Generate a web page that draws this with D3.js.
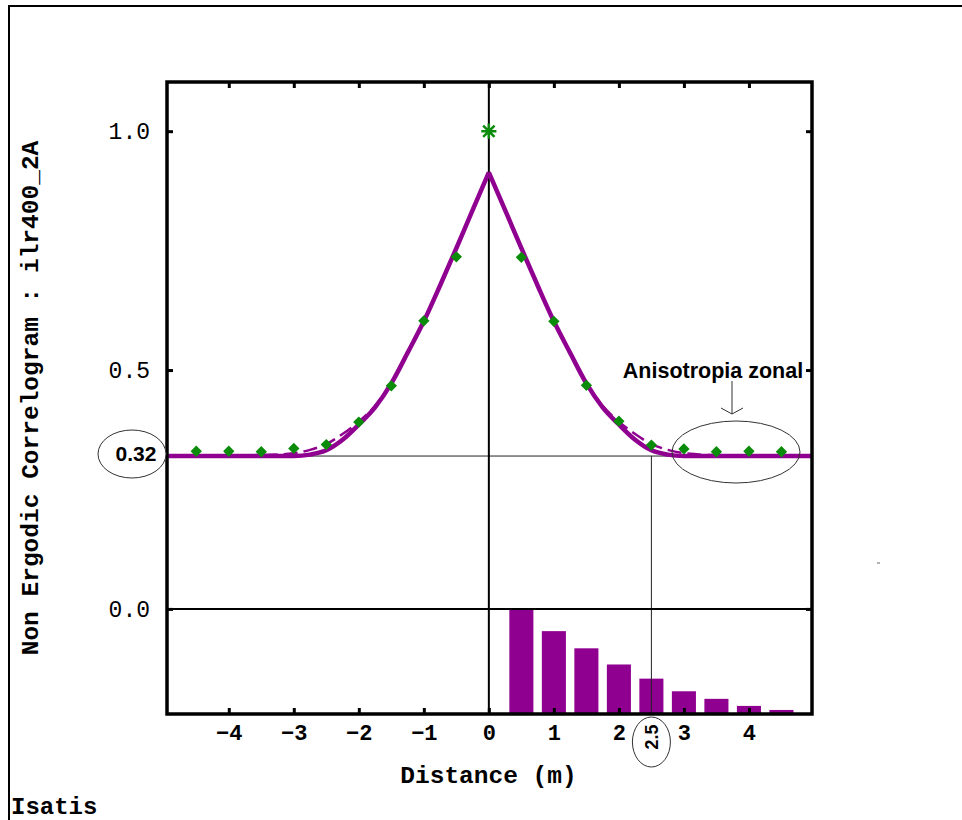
<!DOCTYPE html>
<html>
<head>
<meta charset="utf-8">
<script src="https://cdnjs.cloudflare.com/ajax/libs/d3/7.8.5/d3.min.js"></script>
<style>
  body { margin: 0; background: #fff; }
  svg { display: block; }
  .mono { font-family: "Liberation Mono", "Courier New", monospace; }
  .sans { font-family: "Liberation Sans", Arial, sans-serif; font-weight: bold; }
</style>
</head>
<body>
<div id="chart"></div>
<script>
// experimental correlogram (green diamonds), lags in metres
var expLags = [-4.5, -4, -3.5, -3, -2.5, -2, -1.5, -1, -0.5, 0.5, 1, 1.5, 2, 2.5, 3, 3.5, 4, 4.5];
var expValues = [0.330, 0.330, 0.329, 0.336, 0.344, 0.391, 0.467, 0.603, 0.737,
                 0.736, 0.602, 0.468, 0.393, 0.343, 0.335, 0.329, 0.330, 0.329];
// value at lag 0 (asterisk)
var originLag = [0];
var originValue = [1.0];

// fitted model (solid) for positive lags, mirrored for negative ones
var modelLags = [0, 0.25, 0.5, 0.75, 1.0, 1.25, 1.5, 1.75, 2.0, 2.25, 2.5, 2.75, 3.0, 5.0];
var modelValues = [0.914, 0.835, 0.755, 0.677, 0.602, 0.536, 0.472, 0.422, 0.386, 0.354, 0.332, 0.323, 0.320, 0.320];
// second model (dashed)
var model2Lags = [0, 0.25, 0.5, 0.75, 1.0, 1.25, 1.5, 1.75, 2.0, 2.25, 2.5, 2.75, 3.0, 3.5, 5.0];
var model2Values = [0.914, 0.835, 0.755, 0.677, 0.602, 0.536, 0.473, 0.425, 0.392, 0.366, 0.345, 0.333, 0.326, 0.322, 0.321];

// number of pairs per lag (bars at the bottom)
var pairLags = [0.5, 1.0, 1.5, 2.0, 2.5, 3.0, 3.5, 4.0, 4.5];
var pairCounts = [1040, 820, 650, 490, 350, 225, 150, 80, 40];

var xTicks = [-4, -3, -2, -1, 0, 1, 2, 3, 4];
var yTicks = [0, 0.5, 1.0];
var sillValue = 0.32;
var rangeValue = 2.5;

var width = 962, height = 820;
var plot = {left: 167, right: 812, top: 82, bottom: 714};
var purple = "#900090";
var green = "#0a8c0a";

var svg = d3.select("#chart").append("svg")
    .attr("width", width)
    .attr("height", height);

var x = d3.scaleLinear().domain([-4.95, 4.97]).range([plot.left, plot.right]);
var y = d3.scaleLinear().domain([-0.22, 1.103]).range([plot.bottom, plot.top]);
var yCount = d3.scaleLinear().domain([0, d3.max(pairCounts)]).range([plot.bottom, y(0)]);

// outer page frame
svg.append("line").attr("x1", 9).attr("y1", 6).attr("x2", width).attr("y2", 6)
    .attr("stroke", "#000").attr("stroke-width", 2);
svg.append("line").attr("x1", 9).attr("y1", 5).attr("x2", 9).attr("y2", height)
    .attr("stroke", "#000").attr("stroke-width", 2);

svg.append("clipPath").attr("id", "plotclip")
  .append("rect")
    .attr("x", plot.left).attr("y", plot.top)
    .attr("width", plot.right - plot.left).attr("height", plot.bottom - plot.top);

var g = svg.append("g").attr("clip-path", "url(#plotclip)");

// pair count bars
var barHalf = 0.185;
g.selectAll(".bar")
    .data(pairLags)
    .enter().append("rect")
    .attr("class", "bar")
    .attr("x", function(d) { return x(d - barHalf); })
    .attr("width", function(d) { return x(d + barHalf) - x(d - barHalf); })
    .attr("y", function(d, i) { return yCount(pairCounts[i]); })
    .attr("height", function(d, i) { return plot.bottom - yCount(pairCounts[i]); })
    .attr("fill", purple);

// reference lines
g.append("line")
    .attr("x1", plot.left).attr("x2", plot.right)
    .attr("y1", y(sillValue)).attr("y2", y(sillValue))
    .attr("stroke", "#222").attr("stroke-width", 1);
g.append("line")
    .attr("x1", x(rangeValue)).attr("x2", x(rangeValue))
    .attr("y1", y(sillValue)).attr("y2", plot.bottom)
    .attr("stroke", "#222").attr("stroke-width", 1);
g.append("line")
    .attr("x1", plot.left).attr("x2", plot.right)
    .attr("y1", y(0)).attr("y2", y(0))
    .attr("stroke", "#000").attr("stroke-width", 2);
g.append("line")
    .attr("x1", x(0)).attr("x2", x(0))
    .attr("y1", plot.top).attr("y2", plot.bottom)
    .attr("stroke", "#000").attr("stroke-width", 2);

// model curves, each half drawn on its own so the cusp at 0 stays sharp
var line = d3.line()
    .x(function(d) { return x(d[0]); })
    .y(function(d) { return y(d[1]); })
    .curve(d3.curveMonotoneX);

function halves(lags, values) {
    var right = lags.map(function(h, i) { return [h, values[i]]; });
    var left = lags.map(function(h, i) { return [-h, values[i]]; }).reverse();
    return [left, right];
}

halves(model2Lags, model2Values).forEach(function(pts) {
    g.append("path")
        .attr("d", line(pts))
        .attr("fill", "none")
        .attr("stroke", purple)
        .attr("stroke-width", 2.5)
        .attr("stroke-dasharray", "14,6");
});
halves(modelLags, modelValues).forEach(function(pts) {
    g.append("path")
        .attr("d", line(pts))
        .attr("fill", "none")
        .attr("stroke", purple)
        .attr("stroke-width", 4.5);
});

// experimental points
g.selectAll(".pt")
    .data(expLags)
    .enter().append("path")
    .attr("class", "pt")
    .attr("d", d3.symbol(d3.symbolSquare, 64)())
    .attr("transform", function(d, i) {
        return "translate(" + x(d) + "," + y(expValues[i]) + ") rotate(45)";
    })
    .attr("fill", green);

// asterisk at lag 0
var star = {
    draw: function(ctx, size) {
        var r = Math.sqrt(size) / 2;
        var k = r * 0.75;
        ctx.moveTo(0, -r); ctx.lineTo(0, r);
        ctx.moveTo(-k, -k); ctx.lineTo(k, k);
        ctx.moveTo(-k, k); ctx.lineTo(k, -k);
        ctx.moveTo(-r, 0); ctx.lineTo(r, 0);
    }
};
g.selectAll(".origin")
    .data(originLag)
    .enter().append("path")
    .attr("class", "origin")
    .attr("d", d3.symbol(star, 230)())
    .attr("transform", function(d, i) { return "translate(" + x(d) + "," + y(originValue[i]) + ")"; })
    .attr("fill", "none")
    .attr("stroke", green)
    .attr("stroke-width", 2.5);

// axes: ticks inside on all four sides, labels on bottom and left
var axisBottom = svg.append("g")
    .attr("transform", "translate(0," + plot.bottom + ")")
    .call(d3.axisBottom(x).tickValues(xTicks).tickSizeInner(-6).tickSizeOuter(0).tickPadding(10));
axisBottom.selectAll("text")
    .attr("class", "mono")
    .style("font-size", "22px").style("font-weight", "bold").attr("fill", "#000");

svg.append("g")
    .attr("transform", "translate(0," + plot.top + ")")
    .call(d3.axisTop(x).tickValues(xTicks).tickSizeInner(-6).tickSizeOuter(0).tickFormat(""));

var axisLeft = svg.append("g")
    .attr("transform", "translate(" + plot.left + ",0)")
    .call(d3.axisLeft(y).tickValues(yTicks).tickFormat(d3.format(".1f"))
        .tickSizeInner(-6).tickSizeOuter(0).tickPadding(17));
axisLeft.selectAll("text")
    .attr("class", "mono")
    .style("font-size", "23px").attr("fill", "#000");

svg.append("g")
    .attr("transform", "translate(" + plot.right + ",0)")
    .call(d3.axisRight(y).tickValues(yTicks).tickSizeInner(-6).tickSizeOuter(0).tickFormat(""));

svg.selectAll(".domain").remove();
svg.selectAll(".tick line").attr("stroke", "#000").attr("stroke-width", 3);

// plot frame
svg.append("rect")
    .attr("x", plot.left).attr("y", plot.top)
    .attr("width", plot.right - plot.left).attr("height", plot.bottom - plot.top)
    .attr("fill", "none").attr("stroke", "#000").attr("stroke-width", 3.5);

// titles
svg.append("text")
    .attr("class", "mono")
    .attr("x", (plot.left + plot.right) / 2 - 1).attr("y", 783)
    .attr("text-anchor", "middle")
    .style("font-size", "24.5px").style("font-weight", "bold")
    .text("Distance (m)");

svg.append("text")
    .attr("class", "mono")
    .attr("transform", "translate(38,398) rotate(-90)")
    .attr("text-anchor", "middle")
    .style("font-size", "24.5px").style("font-weight", "bold")
    .text("Non Ergodic Correlogram : ilr400_2A");

svg.append("text")
    .attr("class", "mono")
    .attr("x", 11).attr("y", 814)
    .style("font-size", "24px").style("font-weight", "bold")
    .text("Isatis");

// annotations
svg.append("ellipse")
    .attr("cx", 132).attr("cy", 454).attr("rx", 34).attr("ry", 24)
    .attr("fill", "#fff").attr("stroke", "#333").attr("stroke-width", 1);
svg.append("text")
    .attr("class", "sans")
    .attr("x", 136).attr("y", 454).attr("dy", "0.35em")
    .attr("text-anchor", "middle")
    .style("font-size", "21px")
    .text(d3.format(".2f")(sillValue));

svg.append("text")
    .attr("class", "sans")
    .attr("x", 713).attr("y", 370).attr("dy", "0.35em")
    .attr("text-anchor", "middle")
    .style("font-size", "21.5px")
    .text("Anisotropia zonal");
svg.append("line")
    .attr("x1", 732).attr("y1", 381).attr("x2", 732).attr("y2", 414)
    .attr("stroke", "#333").attr("stroke-width", 1);
svg.append("path")
    .attr("d", "M721,408 L732,414 L743,408")
    .attr("fill", "none").attr("stroke", "#333").attr("stroke-width", 1);
svg.append("ellipse")
    .attr("cx", 736).attr("cy", 452).attr("rx", 64).attr("ry", 31)
    .attr("fill", "none").attr("stroke", "#333").attr("stroke-width", 1);

svg.append("ellipse")
    .attr("cx", x(rangeValue)).attr("cy", 742).attr("rx", 19).attr("ry", 25)
    .attr("fill", "#fff").attr("stroke", "#333").attr("stroke-width", 1);
svg.append("text")
    .attr("class", "sans")
    .attr("transform", "translate(" + x(rangeValue) + ",737) rotate(-90)")
    .attr("dy", "0.35em")
    .attr("text-anchor", "middle")
    .style("font-size", "18px")
    .text(rangeValue);

// small stray mark on the page
svg.append("line")
    .attr("x1", 877).attr("y1", 563).attr("x2", 880).attr("y2", 563)
    .attr("stroke", "#666").attr("stroke-width", 1);
</script>
</body>
</html>
